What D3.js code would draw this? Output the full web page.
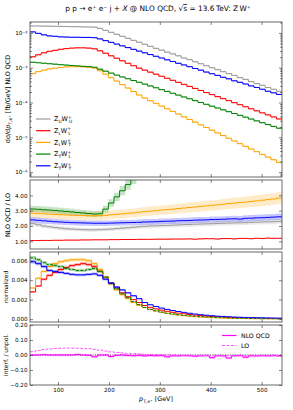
<!DOCTYPE html>
<html>
<head>
<meta charset="utf-8">
<script src="https://cdn.jsdelivr.net/npm/d3@7"></script>
<style>
body { margin: 0; background: #fff; }
text { font-family: "DejaVu Sans", sans-serif; fill: #000; }
</style>
</head>
<body>
<div id="graphicContainer"></div>
<script>
// bins in pT [GeV]
var binEdges = d3.range(45, 541, 11)
var xTicks = [100, 200, 300, 400, 500]

var polLabels = [["U","U"], ["L","L"], ["L","T"], ["T","L"], ["T","T"]]
var polColors = ["#999999", "#ff0000", "#ffa500", "#008000", "#0000ff"]

// top panel: NLO QCD dsigma/dpT [fb/GeV]
var xsUU = [0.0158,0.0158,0.0157,0.0156,0.0155,0.0154,0.0153,0.0152,0.0151,0.0149,0.0148,0.0146,0.0135,0.0118,0.0104,0.0091,0.0080,0.0070,0.0061,0.0054,0.0047,0.0041,0.0036,0.0032,0.0028,0.0025,0.0022,0.0019,0.0017,0.00148,0.0013,0.00114,0.001,0.00088,0.00077,0.00068,0.0006,0.00052,0.00046,0.0004,0.00035,0.00031,0.00027,0.00024,0.00021]
var xsLL = [0.00206,0.00235,0.00268,0.00296,0.00316,0.00338,0.00354,0.00366,0.00373,0.00373,0.00366,0.00349,0.00306,0.0026,0.0022,0.00187,0.00158,0.00134,0.00114,0.00097,0.00085,0.000743,0.00065,0.000568,0.000496,0.000434,0.000379,0.000331,0.00029,0.000253,0.000221,0.000193,0.000169,0.000148,0.000129,0.000113,0.0000987,0.0000863,0.0000754,0.0000659,0.0000576,0.0000503,0.000044,0.0000384,0.0000336]
var xsLT = [0.000674,0.000769,0.000849,0.000918,0.000968,0.001014,0.001047,0.00107,0.00107,0.00106,0.001026,0.00098,0.00082,0.000652,0.000518,0.000412,0.000327,0.00026,0.000206,0.000164,0.000135,0.000113,0.0000945,0.0000791,0.0000662,0.0000554,0.0000464,0.0000388,0.0000325,0.0000272,0.0000228,0.0000191,0.000016,0.0000134,0.0000112,0.00000936,0.00000783,0.00000656,0.00000549,0.0000046,0.00000385,0.00000322,0.0000027,0.00000226,0.00000189]
var xsTL = [0.001436,0.00139,0.001345,0.0013,0.00126,0.00122,0.00119,0.001156,0.001125,0.001096,0.00107,0.00103,0.000906,0.000794,0.000697,0.000611,0.000542,0.000482,0.000428,0.00038,0.000338,0.000299,0.000265,0.000235,0.000208,0.000184,0.000163,0.000144,0.000128,0.000113,0.0001,0.0000886,0.0000784,0.0000694,0.0000615,0.0000544,0.0000482,0.0000427,0.0000378,0.0000334,0.0000296,0.0000262,0.0000232,0.0000205,0.0000182]
var xsTT = [0.0107,0.0097,0.0088,0.0082,0.0080,0.0077,0.0076,0.0075,0.0075,0.0074,0.0074,0.0073,0.00674,0.0060,0.00535,0.00477,0.00425,0.00379,0.00337,0.0030,0.00268,0.00239,0.00213,0.0019,0.00169,0.00151,0.00134,0.0012,0.00107,0.00095,0.00085,0.00075,0.00067,0.0006,0.00053,0.00048,0.00042,0.00038,0.00034,0.0003,0.00027,0.00024,0.00021,0.00019,0.00017]

// second panel: K-factor NLO QCD / LO
var kUU = [2.15,2.08,2.0,1.95,1.9,1.86,1.82,1.8,1.78,1.76,1.75,1.75,1.76,1.78,1.8,1.83,1.86,1.89,1.92,1.95,1.98,2.0,2.01,2.03,2.04,2.06,2.07,2.09,2.1,2.12,2.13,2.14,2.15,2.17,2.18,2.19,2.2,2.21,2.22,2.24,2.25,2.26,2.27,2.28,2.3]
var kLL = [1.05,1.05,1.06,1.06,1.07,1.07,1.08,1.08,1.08,1.09,1.09,1.1,1.1,1.1,1.11,1.11,1.12,1.12,1.12,1.13,1.13,1.13,1.14,1.14,1.14,1.15,1.15,1.15,1.16,1.14,1.16,1.17,1.17,1.15,1.18,1.18,1.16,1.19,1.19,1.17,1.2,1.18,1.21,1.2,1.2]
var kLT = [2.83,2.81,2.79,2.77,2.75,2.73,2.72,2.7,2.69,2.68,2.67,2.67,2.68,2.7,2.73,2.76,2.79,2.83,2.86,2.9,2.94,2.97,3.0,3.04,3.07,3.1,3.14,3.17,3.21,3.24,3.28,3.31,3.35,3.38,3.42,3.46,3.49,3.53,3.56,3.6,3.64,3.68,3.72,3.76,3.82]
var kTL = [3.11,3.09,3.06,3.04,3.01,2.98,2.95,2.92,2.88,2.85,2.81,2.78,2.8,3.1,3.5,3.9,4.3,4.7,5.1,5.6,null,null,null,null,null,null,null,null,null,null,null,null,null,null,null,null,null,null,null,null,null,null,null,null,null]
var kTT = [2.4,2.37,2.34,2.31,2.28,2.26,2.24,2.22,2.21,2.2,2.19,2.18,2.18,2.18,2.19,2.2,2.21,2.22,2.23,2.24,2.26,2.27,2.28,2.3,2.31,2.32,2.34,2.35,2.36,2.38,2.39,2.4,2.42,2.43,2.44,2.46,2.47,2.45,2.5,2.51,2.53,2.54,2.56,2.58,2.6]
var kBand = [0.07, 0.02, 0.1, 0.07, 0.08]   // relative scale uncertainty

// third panel: normalized shapes
var normLL = [0.0028,0.0034,0.0041,0.0045,0.0048,0.0051,0.0053,0.0055,0.0056,0.0057,0.0056,0.0054,0.0049,0.0043,0.0037,0.0032,0.0027,0.0023,0.002,0.0017,0.0014,0.0012,0.00105,0.00092,0.0008,0.0007,0.00061,0.00054,0.00047,0.00041,0.00036,0.00031,0.00027,0.00024,0.00021,0.00018,0.00016,0.00014,0.00012,0.00011,0.000095,0.000083,0.000072,0.000063,0.000055]
var normLT = [0.0032,0.0042,0.0049,0.0054,0.0057,0.0059,0.006,0.0061,0.0061,0.0061,0.006,0.0057,0.0051,0.0043,0.0036,0.003,0.0025,0.0021,0.0017,0.0014,0.0012,0.001,0.00083,0.0007,0.00058,0.00049,0.00041,0.00034,0.00029,0.00024,0.0002,0.00017,0.00014,0.00012,0.0001,0.00008,0.00007,0.00006,0.00005,0.00004,0.000035,0.00003,0.000025,0.00002,0.000017]
var normTL = [0.0063,0.0061,0.0058,0.0056,0.0055,0.0054,0.0052,0.0051,0.005,0.005,0.0051,0.0052,0.0049,0.0043,0.0037,0.0031,0.0026,0.0022,0.0018,0.0015,0.0012,0.001,0.00085,0.00072,0.00062,0.00053,0.00045,0.00039,0.00034,0.00029,0.00025,0.00022,0.00019,0.00016,0.00014,0.00012,0.0001,0.00009,0.00008,0.00007,0.00006,0.000052,0.000045,0.00004,0.000035]
var normTT = [0.0059,0.0057,0.0054,0.005,0.0049,0.0048,0.0047,0.0046,0.00455,0.00455,0.0046,0.00465,0.0045,0.0041,0.0037,0.0033,0.003,0.0027,0.0024,0.0021,0.0017,0.00147,0.0013,0.00113,0.001,0.00088,0.00078,0.00069,0.0006,0.00052,0.00045,0.0004,0.00035,0.0003,0.00027,0.00024,0.00021,0.00019,0.00017,0.00015,0.00014,0.00013,0.00012,0.00011,0.0001]

// bottom panel: interference / unpolarized
var interfNLO = [0.0,0.0,0.002,0.0,0.0,0.0,0.0,0.0,0.003,0.0,-0.002,-0.012,0.0,0.0,-0.01,-0.002,0.0,-0.003,-0.005,-0.002,-0.006,-0.003,-0.005,-0.004,-0.012,-0.005,-0.006,-0.004,-0.005,-0.008,-0.005,-0.004,-0.018,-0.005,-0.006,-0.02,-0.005,-0.004,-0.015,-0.005,-0.006,-0.004,-0.005,-0.003,-0.006]
var interfLO = [0.022,0.03,0.036,0.04,0.043,0.045,0.046,0.046,0.045,0.044,0.042,0.038,0.032,0.026,0.021,0.017,0.014,0.011,0.009,0.007,0.005,0.004,0.003,0.002,0.001,0.0,-0.001,-0.002,-0.002,-0.003,-0.003,-0.003,-0.004,-0.004,-0.004,-0.004,-0.004,-0.005,-0.005,-0.005,-0.005,-0.005,-0.005,-0.005,-0.005]

var W = 293, H = 410
var left = 30, right = 282

var svg = d3.select("#graphicContainer").append("svg")
    .attr("width", W).attr("height", H)

var x = d3.scaleLinear().domain([45, 540]).range([left, right])

// panels
var panels = [
    {top: 22, bottom: 177},
    {top: 180, bottom: 249},
    {top: 252, bottom: 322},
    {top: 325, bottom: 385}
]
var y1 = d3.scaleLog().domain([7.2e-7, 0.0206]).range([panels[0].bottom, panels[0].top])
var y2 = d3.scaleLinear().domain([0.5, 5.0]).range([panels[1].bottom, panels[1].top])
var y3 = d3.scaleLinear().domain([-0.0003, 0.0069]).range([panels[2].bottom, panels[2].top])
var y4 = d3.scaleLinear().domain([-0.2, 0.2]).range([panels[3].bottom, panels[3].top])

function stepData(vals) {
    var pts = vals.map((v, i) => [binEdges[i], v])
    pts.push([binEdges[vals.length], vals[vals.length - 1]])
    return pts
}

function stepLine(y) {
    return d3.line()
        .defined(d => d[1] != null)
        .x(d => x(d[0])).y(d => y(d[1]))
        .curve(d3.curveStepAfter)
}
function stepBand(y, rel) {
    return d3.area()
        .defined(d => d[1] != null)
        .x(d => x(d[0]))
        .y0(d => y(d[1] * (1 - rel))).y1(d => y(d[1] * (1 + rel)))
        .curve(d3.curveStepAfter)
}

panels.forEach(function(p, i) {
    svg.append("clipPath").attr("id", "clip" + i)
        .append("rect").attr("x", left).attr("y", p.top)
        .attr("width", right - left).attr("height", p.bottom - p.top)
})

function panelG(i) {
    return svg.append("g").attr("clip-path", "url(#clip" + i + ")")
}

// ---- panel 1
var g1 = panelG(0)
var xsAll = [xsUU, xsLL, xsLT, xsTL, xsTT]
xsAll.forEach(function(s, k) {
    g1.append("path").datum(stepData(s)).attr("d", stepBand(y1, 0.04))
        .attr("fill", polColors[k]).attr("opacity", 0.3)
})
xsAll.forEach(function(s, k) {
    g1.append("path").datum(stepData(s)).attr("d", stepLine(y1))
        .attr("fill", "none").attr("stroke", polColors[k]).attr("stroke-width", 1)
})

// ---- panel 2
var g2 = panelG(1)
var kAll = [kUU, kLL, kLT, kTL, kTT]
kAll.forEach(function(s, k) {
    g2.append("path").datum(stepData(s)).attr("d", stepBand(y2, kBand[k]))
        .attr("fill", polColors[k]).attr("opacity", 0.22)
})
kAll.forEach(function(s, k) {
    g2.append("path").datum(stepData(s)).attr("d", stepLine(y2))
        .attr("fill", "none").attr("stroke", polColors[k]).attr("stroke-width", 1)
})

// ---- panel 3
var g3 = panelG(2)
var normAll = [null, normLL, normLT, normTL, normTT]
var normDash = [null, null, null, "3,1.5", null]
normAll.forEach(function(s, k) {
    if (!s) return
    g3.append("path").datum(stepData(s)).attr("d", stepBand(y3, 0.03))
        .attr("fill", polColors[k]).attr("opacity", 0.3)
    g3.append("path").datum(stepData(s)).attr("d", stepLine(y3))
        .attr("fill", "none").attr("stroke", polColors[k]).attr("stroke-width", 1)
        .attr("stroke-dasharray", normDash[k])
})

// ---- panel 4
var g4 = panelG(3)
g4.append("line").attr("x1", left).attr("x2", right).attr("y1", y4(0)).attr("y2", y4(0))
    .attr("stroke", "#000").attr("stroke-width", 0.8).attr("stroke-dasharray", "1,1.5")
g4.append("path").datum(stepData(interfNLO))
    .attr("d", d3.area().x(d => x(d[0])).y0(d => y4(d[1] - 0.008)).y1(d => y4(d[1] + 0.008)).curve(d3.curveStepAfter))
    .attr("fill", "#ff00ff").attr("opacity", 0.25)
g4.append("path").datum(stepData(interfNLO)).attr("d", stepLine(y4))
    .attr("fill", "none").attr("stroke", "#ff00ff").attr("stroke-width", 1)
g4.append("path").datum(stepData(interfLO)).attr("d", stepLine(y4))
    .attr("fill", "none").attr("stroke", "#ff55ff").attr("stroke-width", 1)
    .attr("stroke-dasharray", "3,1.5")

// ---- axes and frames
var supMap = {"-": "⁻", "0": "⁰", "1": "¹", "2": "²", "3": "³", "4": "⁴", "5": "⁵", "6": "⁶", "7": "⁷", "8": "⁸", "9": "⁹"}
function logFmt(v) {
    var e = Math.round(Math.log10(v))
    return "10" + String(e).split("").map(c => supMap[c]).join("")
}
function minus(s) { return s.replace("-", "\u2212") }

var yScales = [y1, y2, y3, y4]
var yTickVals = [
    [1e-6, 1e-5, 1e-4, 1e-3, 1e-2],
    [1, 2, 3, 4],
    [0, 0.002, 0.004, 0.006],
    [-0.2, -0.1, 0, 0.1, 0.2]
]
var yFmts = [logFmt, d => d3.format(".2f")(d), d => d3.format(".3f")(d), d => minus(d3.format(".2f")(d))]

panels.forEach(function(p, i) {
    var axB = svg.append("g").attr("transform", "translate(0," + p.bottom + ")")
        .call(d3.axisBottom(x).tickValues(xTicks).tickSize(-3).tickPadding(3)
            .tickFormat(i == 3 ? d3.format("d") : ""))
    var axT = svg.append("g").attr("transform", "translate(0," + p.top + ")")
        .call(d3.axisTop(x).tickValues(xTicks).tickSize(-3).tickFormat(""))
    var axL = svg.append("g").attr("transform", "translate(" + left + ",0)")
        .call(d3.axisLeft(yScales[i]).tickValues(yTickVals[i]).tickSize(-3).tickPadding(2.5)
            .tickFormat(yFmts[i]))
    var axR = svg.append("g").attr("transform", "translate(" + right + ",0)")
        .call(d3.axisRight(yScales[i]).tickValues(yTickVals[i]).tickSize(-3).tickFormat(""))
    if (i == 0) {
        var minors = []
        for (var e = -7; e <= -2; e++) for (var m = 2; m <= 9; m++) {
            var v = m * Math.pow(10, e)
            if (v > 7.2e-7 && v < 0.0206) minors.push(v)
        }
        svg.append("g").attr("transform", "translate(" + left + ",0)")
            .call(d3.axisLeft(y1).tickValues(minors).tickSize(-1.5).tickFormat(""))
            .call(a => a.select(".domain").remove())
        svg.append("g").attr("transform", "translate(" + right + ",0)")
            .call(d3.axisRight(y1).tickValues(minors).tickSize(-1.5).tickFormat(""))
            .call(a => a.select(".domain").remove())
    }
    ;[axB, axT, axL, axR].forEach(function(a) {
        a.select(".domain").remove()
        a.selectAll(".tick line").attr("stroke", "#333").attr("stroke-width", 0.6)
        a.selectAll("text").attr("font-size", 5.6).attr("font-family", "DejaVu Sans")
    })
    svg.selectAll("g.tick line").attr("stroke", "#333")
    svg.append("rect").attr("x", left).attr("y", p.top)
        .attr("width", right - left).attr("height", p.bottom - p.top)
        .attr("fill", "none").attr("stroke", "#444").attr("stroke-width", 0.8)
})

// ---- title
var title = svg.append("text").attr("x", 158).attr("y", 11).attr("text-anchor", "middle")
    .attr("font-size", 7.4)
title.append("tspan").text("p p \u2192 e\u207a e\u207b j + ")
title.append("tspan").attr("font-style", "italic").text("X")
title.append("tspan").text(" @ NLO QCD, \u221a")
title.append("tspan").attr("text-decoration", "overline").text("s")
title.append("tspan").text(" = 13.6\u2009TeV: Z\u2009W\u207a")

// ---- y labels
function yLabel(cx, cy, build) {
    var t = svg.append("text").attr("transform", "translate(" + cx + "," + cy + ") rotate(-90)")
        .attr("text-anchor", "middle").attr("font-size", 6.4)
    build(t)
}
yLabel(10, 99, function(t) {
    t.append("tspan").text("d\u03c3/d")
    t.append("tspan").attr("font-style", "italic").text("p")
    t.append("tspan").attr("font-size", 4.6).attr("dy", 1.6).text("T,e\u207a")
    t.append("tspan").attr("dy", -1.6).text(" [fb/GeV] NLO QCD")
})
yLabel(10, 215, t => t.text("NLO QCD / LO"))
yLabel(8, 287, t => t.text("normalized").attr("font-size", 5.8))
yLabel(8, 355, t => t.text("interf. / unpol.").attr("font-size", 6))

// ---- x label
var xl = svg.append("text").attr("x", 156).attr("y", 401).attr("text-anchor", "middle")
    .attr("font-size", 6.4)
xl.append("tspan").attr("font-style", "italic").text("p")
xl.append("tspan").attr("font-size", 4.6).attr("dy", 1.6).text("T,e\u207a")
xl.append("tspan").attr("dy", -1.6).text(" [GeV]")

// ---- legend panel 1
var leg = svg.append("g")
polLabels.forEach(function(l, k) {
    var ly = 119 + k * 11.7
    leg.append("line").attr("x1", 36).attr("x2", 50.5).attr("y1", ly).attr("y2", ly)
        .attr("stroke", polColors[k]).attr("stroke-width", 1.2)
    var t = leg.append("text").attr("x", 54).attr("y", ly + 2.3).attr("font-size", 6.4)
    t.append("tspan").text("Z")
    t.append("tspan").attr("font-size", 4.4).attr("dy", 1.5).text(l[0])
    t.append("tspan").attr("dy", -1.5).text("W")
    t.append("tspan").attr("font-size", 4.4).attr("dy", -2.6).text("+")
    t.append("tspan").attr("font-size", 4.4).attr("dy", 4.1).attr("dx", -2.7).text(l[1])
})

// ---- legend panel 4
var leg4 = [["NLO QCD", null, "#ff00ff"], ["LO", "3,1.5", "#ff55ff"]]
leg4.forEach(function(l, k) {
    var ly = 335.5 + k * 10
    svg.append("line").attr("x1", 222).attr("x2", 236.5).attr("y1", ly).attr("y2", ly)
        .attr("stroke", l[2]).attr("stroke-width", 1.2)
        .attr("stroke-dasharray", l[1])
    svg.append("text").attr("x", 241).attr("y", ly + 2.2).attr("font-size", 6.2).text(l[0])
})
</script>
</body>
</html>
